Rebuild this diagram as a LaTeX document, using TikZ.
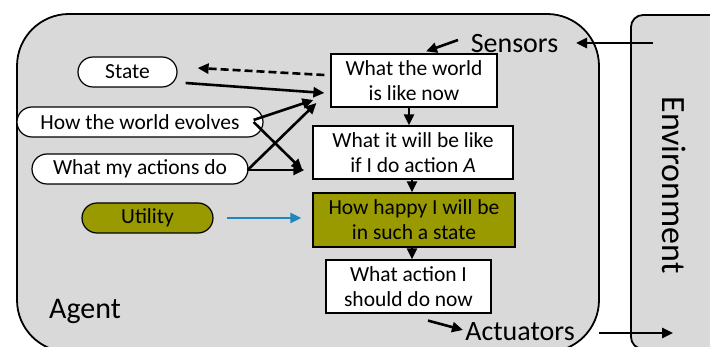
\documentclass[tikz,border=0pt]{standalone}
\usepackage{fontspec}
\setmainfont{Carlito}
\usetikzlibrary{arrows.meta,calc}
\definecolor{panel}{HTML}{D9D9D9}
\definecolor{olive}{HTML}{999900}
\definecolor{utilblue}{HTML}{1F86BE}
\begin{document}
\begin{tikzpicture}[x=1pt,y=-1pt,
  body/.style={font=\fontsize{21.5}{25}\selectfont},
  box/.style={body,draw=black,line width=1.2pt,fill=white,align=center,inner sep=0pt},
  pill/.style={body,draw=black,line width=1.2pt,fill=white,rounded corners=15pt,minimum height=30pt,inner sep=0pt},
  biglabel/.style={font=\fontsize{28}{32}\selectfont,inner sep=0pt},
  arr/.style={line width=2.6pt,-{Triangle[length=11pt,width=10pt]}},
]
\useasboundingbox (0,0) rectangle (710,347);
\clip (0,0) rectangle (710,347);

% agent and environment panels
\draw[fill=panel,line width=1.8pt,rounded corners=52pt] (17,14) rectangle (599,352);
\draw[fill=panel,line width=1.8pt,rounded corners=12pt] (631,15) rectangle (740,349);

% knowledge nodes
\node[pill,minimum width=99pt]  (state)   at (127.5,72) {State};
\node[pill,minimum width=246pt] (evolves) at (140,122)  {How the world evolves};
\node[pill,minimum width=216pt] (actions) at (140,169)  {What my actions do};
\node[pill,minimum width=131pt,fill=olive] (utility) at (147.5,218) {Utility};

% reasoning chain
\node[box,minimum width=166pt,minimum height=53pt] (world)  at (414,80.5)  {What the world\\is like now};
\node[box,minimum width=200pt,minimum height=53pt] (willbe) at (413,152.5) {What it will be like\\if I do action \textit{A}};
\node[box,minimum width=202pt,minimum height=54pt,fill=olive] (happy) at (414,220) {How happy I will be\\in such a state};
\node[box,minimum width=165pt,minimum height=53pt] (action) at (408.5,286.5) {What action I\\should do now};

% labels
\node[biglabel,anchor=base] (sensors)   at (514.5,53) {Sensors};
\node[biglabel,anchor=base] (actuators) at (520,341)  {Actuators};
\node[biglabel,anchor=base,font=\fontsize{30}{34}\selectfont] (agent) at (85,319) {Agent};
\node[biglabel,anchor=base,rotate=-90,font=\fontsize{34}{38}\selectfont] (env) at (662,185) {Environment};

% percept and action ports
\coordinate (sensin)  at (458,40);
\coordinate (envout)  at (653,43);
\coordinate (senstip) at (576,43);
\coordinate (acttip)  at (463,330);
\coordinate (actout)  at (599,333);
\coordinate (envin)   at (673,333);

% connectors
\draw[line width=2.6pt,dash pattern=on 8pt off 4pt,-{Triangle[length=11pt,width=10pt]}]
  ($(world.west)+(-6,-5.5)$) -- ($(state.east)+(20,-4)$);
\draw[arr] ($(state.east)+(8,11)$) -- ($(world.west)+(-6,12.5)$);
\draw[arr] ($(evolves.east)+(-10,-2)$) -- ($(world.west)+(-17,19.5)$);
\draw[arr] ($(actions.east)+(-1,1)$) -- ($(world.west)+(-14,22.5)$);
\draw[arr] ($(evolves.east)+(-10,0)$) -- ($(willbe.west)+(-10,17.5)$);
\draw[arr] ($(actions.east)+(-1,1)$) -- ($(willbe.west)+(-8,17.5)$);
\draw[arr] ($(world.south)+(-5,0)$) -- ($(willbe.north)+(-4,0)$);
\draw[arr] ($(willbe.south)+(-1,0)$) -- ($(happy.north)+(-2,0)$);
\draw[arr] ($(happy.south)+(-2,0)$) -- ($(action.north)+(3.5,0)$);
\draw[arr,color=utilblue] ($(utility.east)+(13,0)$) -- ($(happy.west)+(-11,-2)$);
\draw[arr] (sensin) -- ($(world.north)+(12,-2)$);
\draw[arr] (envout) -- (senstip);
\draw[arr] ($(action.south)+(19.5,7)$) -- (acttip);
\draw[arr] (actout) -- (envin);
\end{tikzpicture}
\end{document}
